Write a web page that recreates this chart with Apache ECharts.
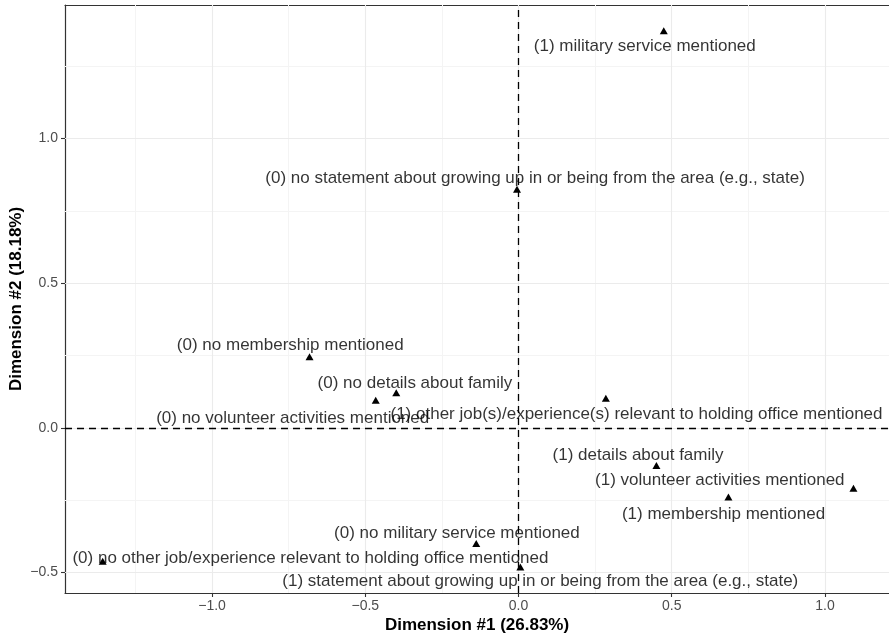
<!DOCTYPE html>
<html>
<head>
<meta charset="utf-8">
<script src="https://cdn.jsdelivr.net/npm/echarts@6/dist/echarts.min.js"></script>
<style>html,body{margin:0;padding:0;background:#fff;}#c{width:889px;height:637px;}</style>
</head>
<body>
<div id="c"></div>
<script>
// Category labels
const names = [
  "(1) military service mentioned",
  "(0) no statement about growing up in or being from the area (e.g., state)",
  "(0) no membership mentioned",
  "(0) no details about family",
  "(0) no volunteer activities mentioned",
  "(1) other job(s)/experience(s) relevant to holding office mentioned",
  "(1) details about family",
  "(1) volunteer activities mentioned",
  "(1) membership mentioned",
  "(0) no military service mentioned",
  "(0) no other job/experience relevant to holding office mentioned",
  "(1) statement about growing up in or being from the area (e.g., state)"
];
// Point coordinates (Dimension #1, Dimension #2)
const dim1 = [0.474, -0.005, -0.682, -0.399, -0.466, 0.285, 0.450, 1.093, 0.685, -0.138, -1.357, 0.006];
const dim2 = [1.373, 0.825, 0.246, 0.121, 0.095, 0.102, -0.130, -0.209, -0.239, -0.400, -0.461, -0.481];
// Repelled label anchor positions (data units)
const labelX = [0.412, 0.054, -0.745, -0.338, -0.737, 0.385, 0.390, 0.657, 0.669, -0.201, -0.679, 0.071];
const labelY = [1.318, 0.864, 0.286, 0.155, 0.034, 0.045, -0.095, -0.182, -0.299, -0.364, -0.452, -0.531];
// Axis ticks
const xTicks = [-1.0, -0.5, 0.0, 0.5, 1.0];
const yTicks = [-0.5, 0.0, 0.5, 1.0];
const xMinor = [-1.25, -0.75, -0.25, 0.25, 0.75];
const yMinor = [-0.25, 0.25, 0.75, 1.25];

const fmt = v => (v < 0 ? '\u2212' : '') + Math.abs(v).toFixed(1);
const FONT = 'Liberation Sans, Arial, Helvetica, sans-serif';

const gridLines = [];
xMinor.forEach(v => gridLines.push({xAxis: v, lineStyle: {color: '#F4F4F4', width: 1, type: 'solid'}}));
yMinor.forEach(v => gridLines.push({yAxis: v, lineStyle: {color: '#F4F4F4', width: 1, type: 'solid'}}));
xTicks.forEach(v => gridLines.push({xAxis: v, lineStyle: {color: '#EBEBEB', width: 1.1, type: 'solid'}}));
yTicks.forEach(v => gridLines.push({yAxis: v, lineStyle: {color: '#EBEBEB', width: 1.1, type: 'solid'}}));

const chart = echarts.init(document.getElementById('c'), null, {renderer: 'canvas'});
chart.setOption({
  animation: false,
  backgroundColor: '#fff',
  grid: {left: 65, right: 0, top: 5, bottom: 44, containLabel: false, outerBoundsMode: 'none'},
  xAxis: [{
    type: 'value', min: -1.480, max: 1.209, position: 'bottom',
    name: 'Dimension #1 (26.83%)', nameLocation: 'middle', nameGap: 24, nameMoveOverlap: false,
    nameTextStyle: {fontFamily: FONT, fontSize: 17, fontWeight: 'bold', color: '#000'},
    axisLine: {show: true, onZero: false, lineStyle: {color: '#333', width: 1.2}},
    axisTick: {show: true, length: 4, customValues: xTicks, lineStyle: {color: '#333', width: 1.1}},
    axisLabel: {customValues: xTicks, formatter: fmt, margin: 6, color: '#4D4D4D', fontFamily: FONT, fontSize: 14},
    splitLine: {show: false}
  }, {
    type: 'value', min: -1.480, max: 1.209, position: 'top',
    axisLine: {show: true, onZero: false, lineStyle: {color: '#333', width: 1.2}},
    axisTick: {show: false}, axisLabel: {show: false}, splitLine: {show: false}
  }],
  yAxis: {
    type: 'value', min: -0.571, max: 1.4616,
    name: 'Dimension #2 (18.18%)', nameLocation: 'middle', nameGap: 40, nameMoveOverlap: false,
    nameTextStyle: {fontFamily: FONT, fontSize: 17, fontWeight: 'bold', color: '#000'},
    axisLine: {show: true, onZero: false, lineStyle: {color: '#333', width: 1.2}},
    axisTick: {show: true, length: 4, customValues: yTicks, lineStyle: {color: '#333', width: 1.1}},
    axisLabel: {customValues: yTicks, formatter: fmt, margin: 7, color: '#4D4D4D', fontFamily: FONT, fontSize: 14},
    splitLine: {show: false}
  },
  series: [
    {
      type: 'scatter', data: [], z: 1, silent: true,
      markLine: {z: 1, silent: true, symbol: 'none', label: {show: false}, animation: false, data: gridLines}
    },
    {
      type: 'scatter', data: [], z: 2, silent: true,
      markLine: {
        z: 2, silent: true, symbol: 'none', label: {show: false}, animation: false,
        lineStyle: {color: '#000', type: [7, 5], width: 1.3},
        data: [{xAxis: 0}, {yAxis: 0}]
      }
    },
    {
      type: 'scatter', z: 3, silent: true,
      symbol: 'triangle', symbolSize: [8, 7],
      itemStyle: {color: '#000', opacity: 1},
      data: dim1.map((x, i) => [x, dim2[i]])
    },
    {
      type: 'scatter', z: 4, silent: true,
      symbol: 'circle', symbolSize: 1, itemStyle: {color: 'rgba(0,0,0,0)'},
      label: {
        show: true, position: 'inside', align: 'center', verticalAlign: 'middle',
        fontFamily: FONT, fontSize: 17, color: '#000',
        formatter: p => names[p.dataIndex]
      },
      labelLayout: {hideOverlap: false},
      data: labelX.map((x, i) => [x, labelY[i]])
    }
  ]
});
</script>
</body>
</html>
